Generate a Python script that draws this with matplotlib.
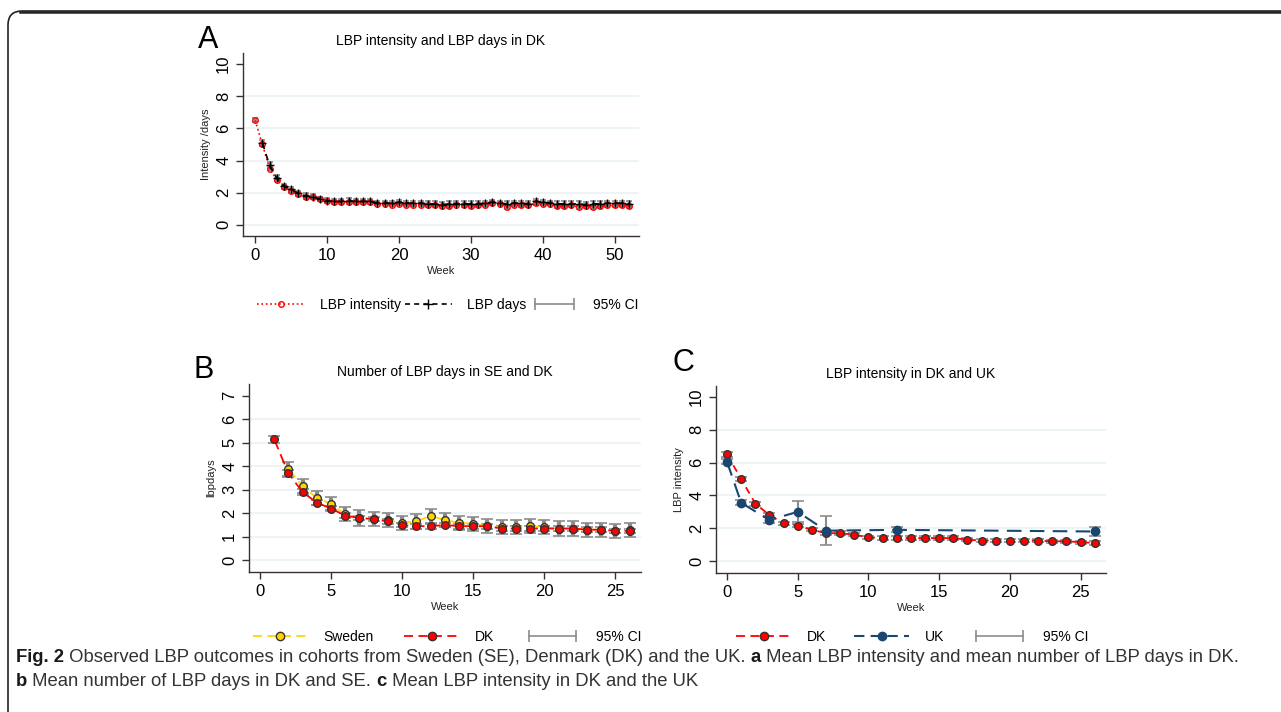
import matplotlib
matplotlib.use('Agg')
import matplotlib.pyplot as plt
from matplotlib.lines import Line2D
from matplotlib.legend_handler import HandlerLine2D
from matplotlib.patches import FancyBboxPatch
import numpy as np

plt.rcParams['font.family'] = ['Liberation Sans', 'DejaVu Sans']

# %% data
weeks_a = list(range(0, 53))
intensity_a = [6.5, 5.0, 3.5, 2.8, 2.35, 2.1, 1.9, 1.7, 1.7, 1.6,
               1.45, 1.4, 1.4, 1.4, 1.4, 1.4, 1.4, 1.3, 1.3, 1.25,
               1.3, 1.25, 1.25, 1.25, 1.2, 1.2, 1.15, 1.15, 1.25, 1.2,
               1.15, 1.2, 1.25, 1.35, 1.3, 1.1, 1.25, 1.2, 1.2, 1.35,
               1.3, 1.3, 1.15, 1.15, 1.2, 1.1, 1.15, 1.1, 1.15, 1.2,
               1.2, 1.2, 1.15]
intensity_a_ci = [0.12, 0.12, 0.1, 0.1, 0.1, 0.1, 0.1, 0.1, 0.1, 0.1,
                  0.1, 0.1, 0.1, 0.1, 0.1, 0.1, 0.1, 0.1, 0.1, 0.1,
                  0.1, 0.1, 0.1, 0.1, 0.1, 0.1, 0.1, 0.1, 0.1, 0.1,
                  0.1, 0.1, 0.1, 0.1, 0.1, 0.1, 0.1, 0.1, 0.1, 0.1,
                  0.1, 0.1, 0.1, 0.1, 0.1, 0.1, 0.1, 0.1, 0.1, 0.1,
                  0.1, 0.1, 0.1]
weeks_a_days = list(range(1, 53))
days_a = [5.1, 3.7, 2.9, 2.4, 2.2, 1.95, 1.8, 1.75, 1.6, 1.5,
          1.45, 1.45, 1.5, 1.45, 1.45, 1.45, 1.35, 1.35, 1.35, 1.4,
          1.35, 1.35, 1.35, 1.3, 1.3, 1.25, 1.3, 1.3, 1.3, 1.3,
          1.3, 1.35, 1.4, 1.35, 1.3, 1.35, 1.35, 1.3, 1.45, 1.4,
          1.35, 1.3, 1.3, 1.3, 1.3, 1.25, 1.3, 1.3, 1.35, 1.35,
          1.35, 1.3]
days_a_ci = [0.2, 0.2, 0.18, 0.15, 0.15, 0.15, 0.15, 0.15, 0.15, 0.15,
             0.15, 0.15, 0.15, 0.15, 0.15, 0.15, 0.15, 0.15, 0.15, 0.15,
             0.15, 0.15, 0.15, 0.15, 0.15, 0.15, 0.15, 0.15, 0.15, 0.15,
             0.15, 0.15, 0.15, 0.15, 0.15, 0.15, 0.15, 0.15, 0.15, 0.15,
             0.15, 0.15, 0.15, 0.15, 0.15, 0.15, 0.15, 0.15, 0.15, 0.15,
             0.15, 0.15]

weeks_se = list(range(2, 27))
days_se = [3.9, 3.15, 2.65, 2.4, 1.95, 1.8, 1.75, 1.7, 1.6, 1.65,
           1.9, 1.7, 1.6, 1.55, 1.45, 1.4, 1.4, 1.45, 1.4, 1.35,
           1.35, 1.3, 1.3, 1.25, 1.3]
days_se_ci = [0.3, 0.3, 0.28, 0.28, 0.3, 0.35, 0.3, 0.3, 0.3, 0.3,
              0.3, 0.3, 0.3, 0.3, 0.3, 0.3, 0.3, 0.3, 0.3, 0.3,
              0.3, 0.3, 0.3, 0.3, 0.3]
weeks_dk_b = list(range(1, 27))
days_dk = [5.15, 3.7, 2.9, 2.45, 2.2, 1.9, 1.8, 1.75, 1.65, 1.5,
           1.45, 1.45, 1.5, 1.45, 1.45, 1.45, 1.35, 1.35, 1.35, 1.35,
           1.35, 1.35, 1.3, 1.3, 1.25, 1.25]
days_dk_ci = [0.15, 0.15, 0.12, 0.12, 0.12, 0.1, 0.1, 0.1, 0.1, 0.1,
              0.1, 0.1, 0.1, 0.1, 0.1, 0.1, 0.1, 0.1, 0.1, 0.1,
              0.1, 0.1, 0.1, 0.1, 0.1, 0.1]

weeks_dk_c = list(range(0, 27))
intensity_dk = [6.5, 5.0, 3.5, 2.8, 2.3, 2.15, 1.9, 1.7, 1.7, 1.6,
                1.45, 1.4, 1.4, 1.4, 1.4, 1.4, 1.4, 1.3, 1.25, 1.25,
                1.25, 1.25, 1.25, 1.2, 1.2, 1.15, 1.1]
intensity_dk_ci = [0.15, 0.15, 0.12, 0.12, 0.1, 0.1, 0.1, 0.1, 0.1, 0.1,
                   0.1, 0.1, 0.1, 0.1, 0.1, 0.1, 0.1, 0.1, 0.1, 0.1,
                   0.1, 0.1, 0.1, 0.1, 0.1, 0.1, 0.1]
weeks_uk = [0, 1, 3, 5, 7, 12, 26]
intensity_uk = [6.05, 3.55, 2.5, 3.0, 1.85, 1.9, 1.8]
intensity_uk_lo = [5.9, 3.4, 2.3, 2.35, 1.0, 1.75, 1.5]
intensity_uk_hi = [6.2, 3.7, 2.75, 3.65, 2.75, 2.05, 2.1]

caption_1 = [('Fig. 2', True), (' Observed LBP outcomes in cohorts from Sweden (SE), Denmark (DK) and the UK. ', False),
             ('a', True), (' Mean LBP intensity and mean number of LBP days in DK.', False)]
caption_2 = [('b', True), (' Mean number of LBP days in DK and SE. ', False),
             ('c', True), (' Mean LBP intensity in DK and the UK', False)]

# %% style
W, H = 1281, 712
RED = '#FF0000'
NAVY = '#1A476F'
GOLD = '#FFD400'
CIGREY = '#8C8C8C'
GRID = '#EAF2F3'


def px_rect(l, r, t, b):
    return [l / W, (H - b) / H, (r - l) / W, (b - t) / H]


def style_axes(ax, xticks, yticks, xlim, ylim, ylabel):
    ax.set_xlim(*xlim)
    ax.set_ylim(*ylim)
    ax.set_xticks(xticks)
    ax.set_yticks(yticks)
    for s in ['top', 'right']:
        ax.spines[s].set_visible(False)
    for s in ['left', 'bottom']:
        ax.spines[s].set_color('#333333')
        ax.spines[s].set_linewidth(1.0)
    ax.tick_params(axis='both', colors='#333333', labelcolor='black', labelsize=12, length=5, width=1)
    plt.setp(ax.get_yticklabels(), rotation=90, va='center')
    ax.grid(axis='y', color=GRID, linewidth=1.2)
    ax.yaxis.get_gridlines()[-1].set_visible(False)
    ax.set_axisbelow(True)
    ax.set_xlabel('Week', fontsize=8, labelpad=2, color='#222222')
    ax.set_ylabel(ylabel, fontsize=8, labelpad=4, color='#222222')


fig = plt.figure(figsize=(W / 100, H / 100), dpi=100)

# frame around figure
bg = fig.add_axes([0, 0, 1, 1])
bg.set_xlim(0, W)
bg.set_ylim(H, 0)
bg.axis('off')
bg.add_patch(FancyBboxPatch((8, 11), W + 40, H + 40, boxstyle='round,pad=0,rounding_size=14',
                            fill=False, edgecolor='#222222', linewidth=1.2, clip_on=True))
bg.plot([20, W], [11.5, 11.5], color='#222222', linewidth=1.8)

# %% panel A
axA = fig.add_axes(px_rect(243, 639, 53, 236))
axA.errorbar(weeks_a, intensity_a, yerr=intensity_a_ci, fmt='none', ecolor=CIGREY, elinewidth=2.5, capsize=2.5, capthick=1.2)
axA.errorbar(weeks_a_days, days_a, yerr=days_a_ci, fmt='none', ecolor=CIGREY, elinewidth=2.5, capsize=2.5, capthick=1.2)
axA.plot(weeks_a, intensity_a, color=RED, linestyle=':', linewidth=1.2, marker='o', markersize=4,
         markerfacecolor='none', markeredgecolor=RED, markeredgewidth=1.0)
axA.plot(weeks_a_days, days_a, color='black', linestyle=(0, (4, 3)), linewidth=1.2, marker='+', markersize=6,
         markeredgewidth=1.0)
style_axes(axA, [0, 10, 20, 30, 40, 50], [0, 2, 4, 6, 8, 10], (-1.7, 53.4), (-0.7, 10.7), 'Intensity /days')
axA.set_title('LBP intensity and LBP days in DK', fontsize=10, pad=6)
fig.text(198 / W, 1 - 40 / H, 'A', fontsize=22, va='center', ha='left')

hA1 = Line2D([], [], color=RED, linestyle=':', linewidth=1.2, marker='o', markersize=4,
             markerfacecolor='none', markeredgecolor=RED)
hA2 = Line2D([], [], color='black', linestyle=(0, (3, 2.5)), linewidth=1.2, marker='+', markersize=7)
hCI = Line2D([], [], color=CIGREY, linewidth=1.2, marker='|', markersize=8, markeredgewidth=1.2)
fig.legend([hA1, hA2, hCI], ['LBP intensity', 'LBP days', '95% CI'], loc='center',
           bbox_to_anchor=(448 / W, 1 - 305 / H), ncol=3, frameon=False, fontsize=10,
           handlelength=3.4, handletextpad=1.1, columnspacing=0.3, numpoints=1,
           handler_map={hCI: HandlerLine2D(numpoints=2)})

# %% panel B
axB = fig.add_axes(px_rect(249, 641, 384, 572))
axB.errorbar(weeks_se, days_se, yerr=days_se_ci, fmt='none', ecolor=CIGREY, elinewidth=3, capsize=4, capthick=1.2)
axB.errorbar(weeks_dk_b, days_dk, yerr=days_dk_ci, fmt='none', ecolor=CIGREY, elinewidth=3, capsize=4, capthick=1.2)
axB.plot(weeks_se, days_se, color=GOLD, linestyle=(0, (6, 3)), linewidth=1.3, marker='o', markersize=5.5,
         markerfacecolor=GOLD, markeredgecolor='#333333', markeredgewidth=1.0)
axB.plot(weeks_dk_b, days_dk, color=RED, linestyle=(0, (6, 3)), linewidth=1.3, marker='o', markersize=5.5,
         markerfacecolor=RED, markeredgecolor='#333333', markeredgewidth=1.0)
style_axes(axB, [0, 5, 10, 15, 20, 25], [0, 1, 2, 3, 4, 5, 6, 7], (-0.77, 26.8), (-0.5, 7.5), 'lbpdays')
axB.set_title('Number of LBP days in SE and DK', fontsize=10, pad=6)
fig.text(193 / W, 1 - 370 / H, 'B', fontsize=22, va='center', ha='left')

hB1 = Line2D([], [], color=GOLD, linestyle=(0, (5, 3)), linewidth=1.3, marker='o', markersize=6,
             markerfacecolor=GOLD, markeredgecolor='#333333')
hB2 = Line2D([], [], color=RED, linestyle=(0, (5, 3)), linewidth=1.3, marker='o', markersize=6,
             markerfacecolor=RED, markeredgecolor='#333333')
hCIb = Line2D([], [], color=CIGREY, linewidth=1.2, marker='|', markersize=8, markeredgewidth=1.2)
fig.legend([hB1, hB2, hCIb], ['Sweden', 'DK', '95% CI'], loc='center',
           bbox_to_anchor=(447 / W, 1 - 637 / H), ncol=3, frameon=False, fontsize=10,
           handlelength=4.0, handletextpad=1.1, columnspacing=2.2, numpoints=1,
           handler_map={hCIb: HandlerLine2D(numpoints=2)})

# %% panel C
axC = fig.add_axes(px_rect(716, 1106, 386, 573))
axC.errorbar(weeks_dk_c, intensity_dk, yerr=intensity_dk_ci, fmt='none', ecolor=CIGREY, elinewidth=3, capsize=4, capthick=1.2)
uk_err = [np.array(intensity_uk) - np.array(intensity_uk_lo), np.array(intensity_uk_hi) - np.array(intensity_uk)]
axC.errorbar(weeks_uk, intensity_uk, yerr=uk_err, fmt='none', ecolor=CIGREY, elinewidth=1.5, capsize=4, capthick=1.2)
axC.plot(weeks_dk_c, intensity_dk, color=RED, linestyle=(0, (4, 3)), linewidth=1.3, marker='o', markersize=5.5,
         markerfacecolor=RED, markeredgecolor='#333333', markeredgewidth=1.0)
axC.plot(weeks_uk, intensity_uk, color=NAVY, linestyle=(0, (7, 4)), linewidth=1.5, marker='o', markersize=6,
         markerfacecolor=NAVY, markeredgecolor=NAVY)
style_axes(axC, [0, 5, 10, 15, 20, 25], [0, 2, 4, 6, 8, 10], (-0.78, 26.8), (-0.73, 10.67), 'LBP intensity')
axC.set_title('LBP intensity in DK and UK', fontsize=10, pad=6)
fig.text(673 / W, 1 - 363 / H, 'C', fontsize=22, va='center', ha='left')

hC1 = Line2D([], [], color=RED, linestyle=(0, (5, 3)), linewidth=1.3, marker='o', markersize=6,
             markerfacecolor=RED, markeredgecolor='#333333')
hC2 = Line2D([], [], color=NAVY, linestyle=(0, (5, 3)), linewidth=1.5, marker='o', markersize=6,
             markerfacecolor=NAVY, markeredgecolor=NAVY)
hCIc = Line2D([], [], color=CIGREY, linewidth=1.2, marker='|', markersize=8, markeredgewidth=1.2)
fig.legend([hC1, hC2, hCIc], ['DK', 'UK', '95% CI'], loc='center',
           bbox_to_anchor=(912 / W, 1 - 637 / H), ncol=3, frameon=False, fontsize=10,
           handlelength=4.0, handletextpad=1.1, columnspacing=2.0, numpoints=1,
           handler_map={hCIc: HandlerLine2D(numpoints=2)})

# %% caption
fig.canvas.draw()
renderer = fig.canvas.get_renderer()


def caption_line(y, parts):
    x = 16 / W
    for txt, bold in parts:
        t = fig.text(x, y, txt, fontsize=13.3,
                     fontweight='bold' if bold else 'normal',
                     color='#1a1a1a' if bold else '#333333', va='center', ha='left')
        x += t.get_window_extent(renderer).width / W


caption_line(1 - 657 / H, caption_1)
caption_line(1 - 682 / H, caption_2)

fig.savefig('out.png', dpi=100)
